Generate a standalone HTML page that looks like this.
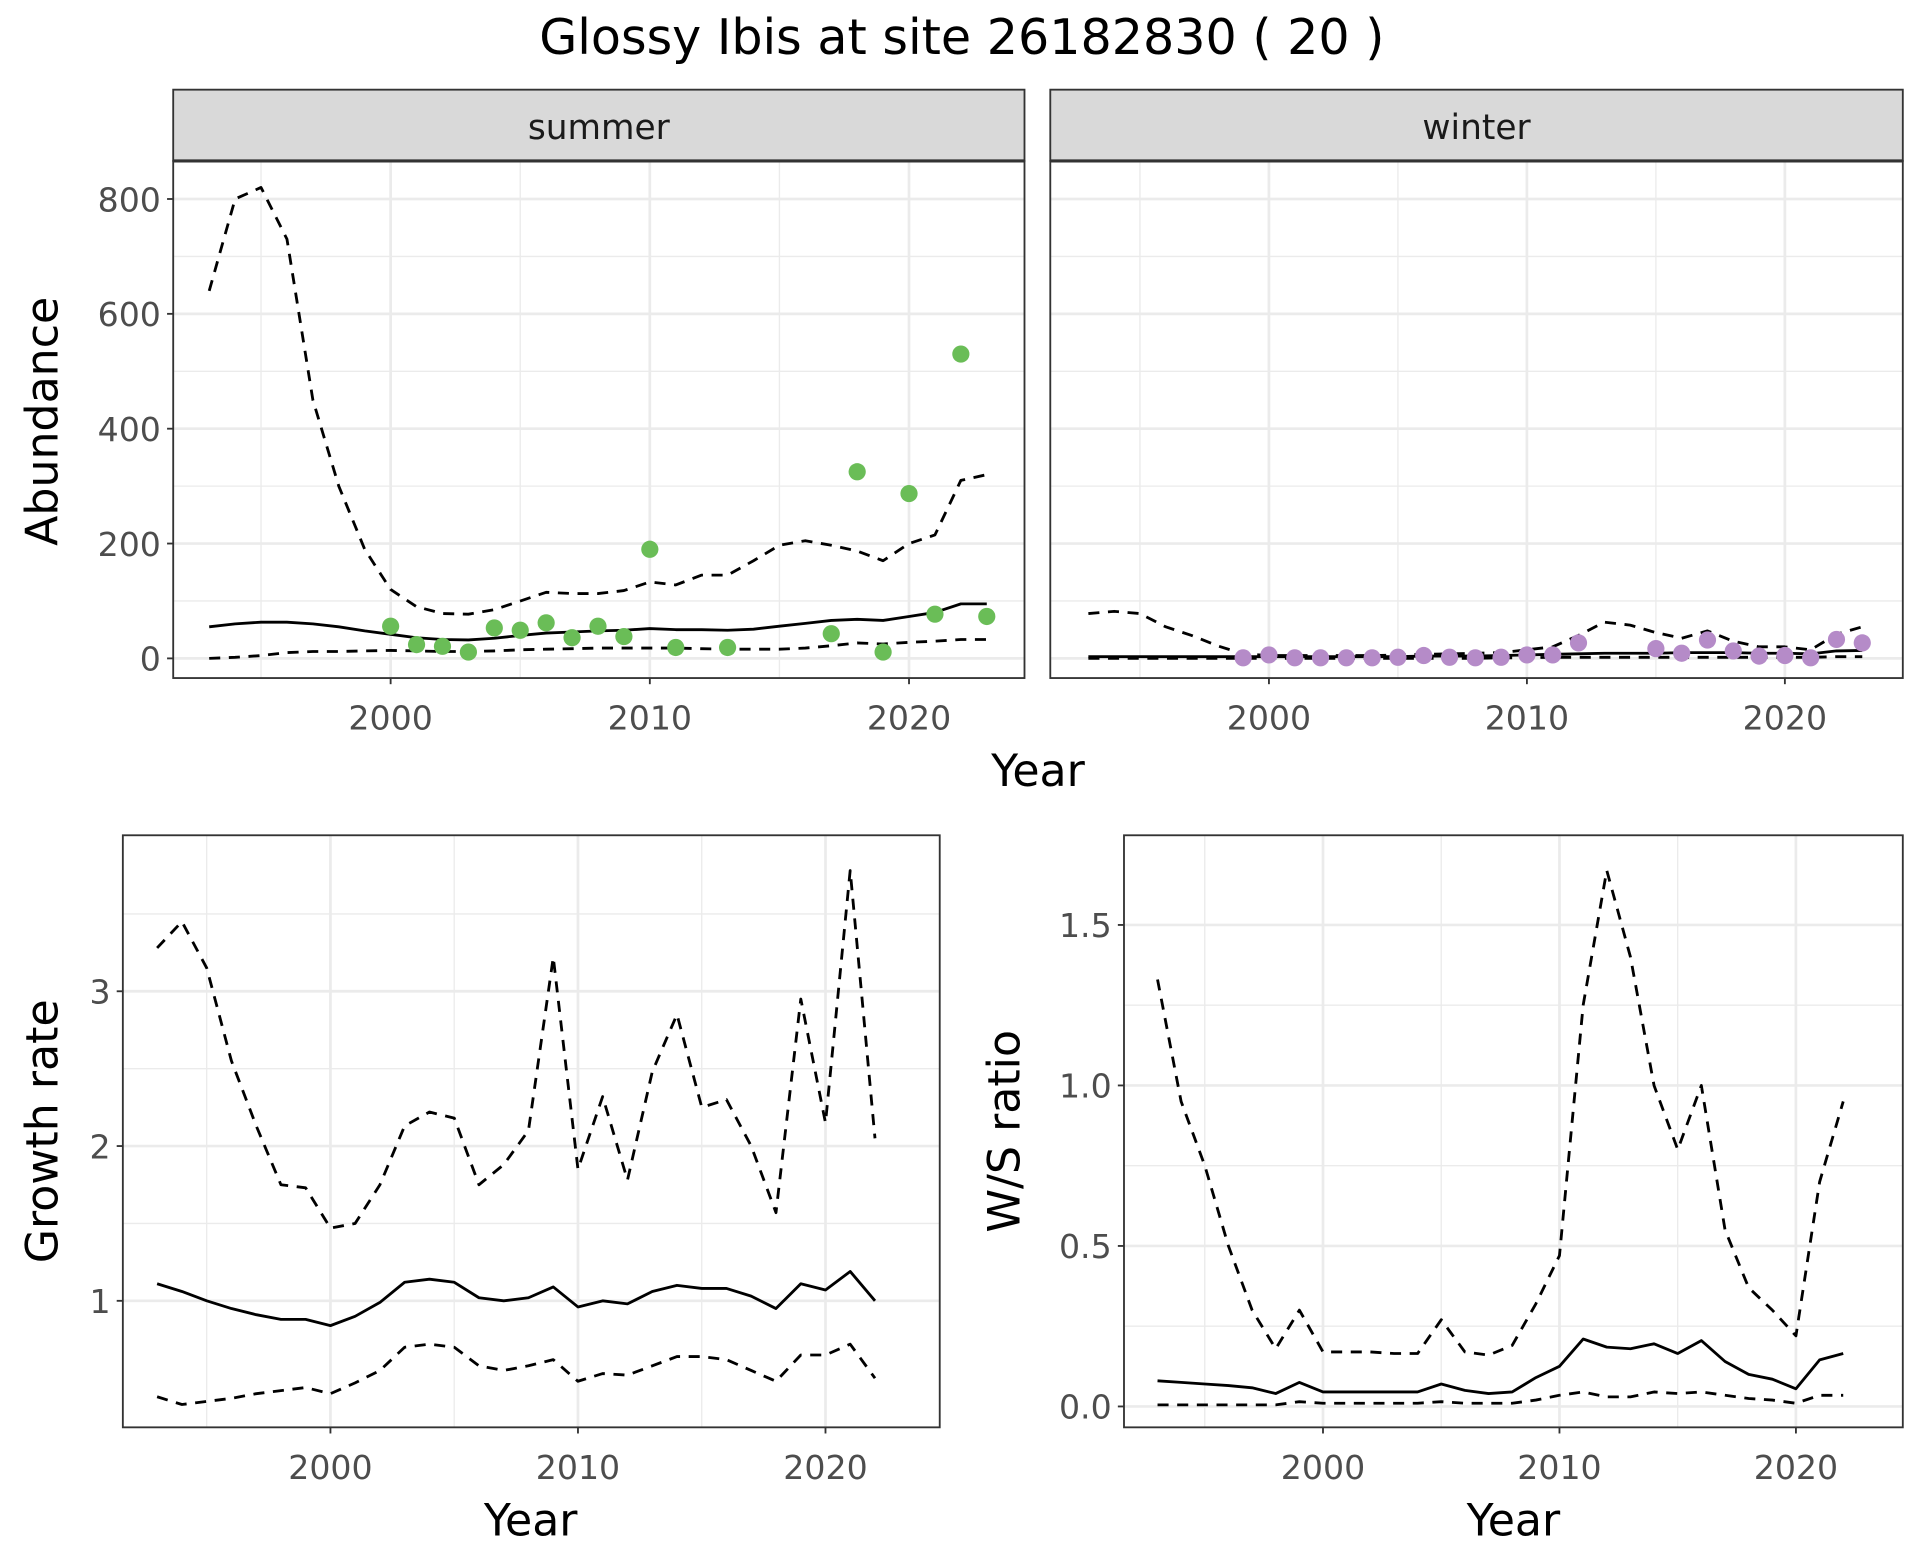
<!DOCTYPE html>
<html><head><meta charset="utf-8"><style>
html,body{margin:0;padding:0;background:#fff}
svg{display:block}
text{font-family:"DejaVu Sans","Liberation Sans",sans-serif}
</style></head><body>
<svg id="chart" width="1920" height="1560" viewBox="0 0 1563 1270" preserveAspectRatio="none" xmlns="http://www.w3.org/2000/svg">
<text x="783" y="44" font-size="40" text-anchor="middle" fill="#000">Glossy Ibis at site 26182830 ( 20 )</text>
</svg>
<script>
const yearsAll = [1993,1994,1995,1996,1997,1998,1999,2000,2001,2002,2003,2004,2005,2006,2007,2008,2009,2010,2011,2012,2013,2014,2015,2016,2017,2018,2019,2020,2021,2022,2023];
const summerMean = [55,60,63,63,60,55,48,42,36,33,32,35,40,44,46,48,49,52,50,50,49,51,56,61,66,68,66,73,80,95,95];
const summerUpper = [640,800,820,730,450,300,190,120,90,78,77,85,100,115,113,113,118,133,128,145,145,170,197,205,197,187,170,200,215,310,320];
const summerLower = [0,2,5,10,12,12,13,14,13,12,12,13,15,16,17,18,18,18,18,17,16,16,16,18,22,27,25,28,30,33,33];
const summerPtYears = [2000,2001,2002,2003,2004,2005,2006,2007,2008,2009,2010,2011,2013,2017,2018,2019,2020,2021,2022,2023];
const summerPtVals = [56,24,21,11,53,49,62,36,56,38,190,19,19,43,325,11,287,77,530,73];
const winterMean = [3,3,3,3,3,3,3,3,3,3,3,3,3,4,4,4,5,6,7,8,9,9,9,10,10,10,9,9,8,13,14];
const winterUpper = [78,82,78,55,40,22,8,5,5,5,5,5,6,7,8,9,10,15,20,40,63,58,45,35,48,30,20,20,15,42,55];
const winterLower = [0,0,0,0,0,0,0,0,0,0,0,0,0,0,0,0,1,1,2,2,2,2,2,2,2,2,2,2,2,3,3];
const winterPtYears = [1999,2000,2001,2002,2003,2004,2005,2006,2007,2008,2009,2010,2011,2012,2015,2016,2017,2018,2019,2020,2021,2022,2023];
const winterPtVals = [1,6,1,1,1,1,2,5,2,1,2,6,6,27,17,9,32,13,4,5,1,33,27];
const years2 = [1993,1994,1995,1996,1997,1998,1999,2000,2001,2002,2003,2004,2005,2006,2007,2008,2009,2010,2011,2012,2013,2014,2015,2016,2017,2018,2019,2020,2021,2022];
const growthMean = [1.11,1.06,1.00,0.95,0.91,0.88,0.88,0.84,0.90,0.99,1.12,1.14,1.12,1.02,1.00,1.02,1.09,0.96,1.00,0.98,1.06,1.10,1.08,1.08,1.03,0.95,1.11,1.07,1.19,1.00];
const growthUpper = [3.28,3.45,3.15,2.55,2.13,1.75,1.73,1.47,1.50,1.75,2.13,2.22,2.18,1.75,1.88,2.10,3.22,1.85,2.32,1.78,2.48,2.85,2.25,2.30,2.00,1.57,2.95,2.15,3.78,2.05];
const growthLower = [0.38,0.33,0.35,0.37,0.40,0.42,0.44,0.40,0.47,0.55,0.70,0.72,0.70,0.58,0.55,0.58,0.62,0.48,0.53,0.52,0.58,0.64,0.64,0.62,0.55,0.48,0.65,0.65,0.72,0.50];
const ratioMean = [0.08,0.075,0.07,0.065,0.058,0.04,0.075,0.045,0.045,0.045,0.045,0.045,0.07,0.05,0.04,0.045,0.09,0.125,0.21,0.185,0.18,0.195,0.165,0.205,0.14,0.10,0.085,0.055,0.145,0.165];
const ratioUpper = [1.33,0.95,0.75,0.50,0.30,0.18,0.30,0.17,0.17,0.17,0.165,0.165,0.27,0.17,0.16,0.19,0.32,0.47,1.25,1.67,1.40,1.00,0.80,1.00,0.55,0.37,0.30,0.22,0.70,0.95];
const ratioLower = [0.005,0.005,0.005,0.005,0.005,0.005,0.015,0.01,0.01,0.01,0.01,0.01,0.015,0.01,0.01,0.01,0.02,0.035,0.045,0.03,0.03,0.045,0.04,0.045,0.035,0.025,0.02,0.01,0.035,0.035];
const abundTicks = [0,200,400,600,800];
const abundMinor = [100,300,500,700];
const yearTicks = [2000,2010,2020];
const yearMinor = [1995,2005,2015];
const growthTicks = [1,2,3];
const growthMinor = [1.5,2.5,3.5];
const ratioTicks = [0,0.5,1.0,1.5];
const ratioMinor = [0.25,0.75,1.25];

const NS='http://www.w3.org/2000/svg';
const svg=document.getElementById('chart');
function el(tag,attrs,parent){const e=document.createElementNS(NS,tag);for(const k in attrs)e.setAttribute(k,attrs[k]);(parent||svg).appendChild(e);return e;}

function lin(d0,d1,r0,r1){return v=>r0+(v-d0)*(r1-r0)/(d1-d0);}

function panel(o){
  const g=el('g',{});
  
  
  const {x0,x1,y0,y1,sx,sy}=o;
  el('rect',{x:x0,y:y0,width:x1-x0,height:y1-y0,fill:'#fff'},g);
  o.xMinor.forEach(v=>el('line',{x1:sx(v),x2:sx(v),y1:y0,y2:y1,stroke:'#ebebeb','stroke-width':1.1},g));
  o.yMinor.forEach(v=>{const y=sy(v);if(y>y0&&y<y1)el('line',{x1:x0,x2:x1,y1:y,y2:y,stroke:'#ebebeb','stroke-width':1.1},g);});
  o.xTicks.forEach(v=>el('line',{x1:sx(v),x2:sx(v),y1:y0,y2:y1,stroke:'#ebebeb','stroke-width':2.2},g));
  o.yTicks.forEach(v=>el('line',{x1:x0,x2:x1,y1:sy(v),y2:sy(v),stroke:'#ebebeb','stroke-width':2.2},g));
  const clipId='c'+o.name;
  const cp=el('clipPath',{id:clipId},g);
  el('rect',{x:x0,y:y0,width:x1-x0,height:y1-y0},cp);
  const inner=el('g',{'clip-path':'url(#'+clipId+')'},g);
  o.series.forEach(s=>{
    const pts=s.xs.map((x,i)=>sx(x).toFixed(1)+','+sy(s.ys[i]).toFixed(1)).join(' ');
    const p=el('polyline',{points:pts,fill:'none',stroke:'#000','stroke-width':2.3,'stroke-linejoin':'round'},inner);
    if(s.dash)p.setAttribute('stroke-dasharray','9,7');
    
    
  });
  if(o.points){o.points.xs.forEach((x,i)=>{
    const c=el('circle',{cx:sx(x),cy:sy(o.points.ys[i]),r:7,fill:o.points.color},inner);
    
    
  });}
  el('rect',{x:x0,y:y0,width:x1-x0,height:y1-y0,fill:'none',stroke:'#333','stroke-width':1.5},g);
  o.xTicks.forEach(v=>{
    el('line',{x1:sx(v),x2:sx(v),y1:y1,y2:y1+5,stroke:'#333','stroke-width':1.5},g);
    const t=el('text',{x:sx(v),y:y1+42,'font-size':27,'text-anchor':'middle',fill:'#4d4d4d'},g);t.textContent=v;
  });
  if(o.yLabels!==false)o.yTicks.forEach(v=>{
    el('line',{x1:x0-5,x2:x0,y1:sy(v),y2:sy(v),stroke:'#333','stroke-width':1.5},g);
    const t=el('text',{x:x0-10,y:sy(v)+10,'font-size':27,'text-anchor':'end',fill:'#4d4d4d'},g);t.textContent=o.fmt?o.fmt(v):v;
  });
  if(o.strip){
    el('rect',{x:x0,y:73,width:x1-x0,height:y0-73,fill:'#d9d9d9',stroke:'#333','stroke-width':1.5},g);
    el('line',{x1:x0,x2:x1,y1:y0,y2:y0,stroke:'#333','stroke-width':2.5},g);
    const t=el('text',{x:(x0+x1)/2,y:113,'font-size':28,'text-anchor':'middle',fill:'#1a1a1a'},g);t.textContent=o.strip;
    
    
  }
  return g;
}

const sxS=lin(2000,2020,318,740), syA=lin(0,800,536,162);
panel({name:'summer-panel',x0:141,x1:834,y0:131,y1:552,sx:sxS,sy:syA,xTicks:yearTicks,xMinor:yearMinor,yTicks:abundTicks,yMinor:abundMinor,strip:'summer',
  series:[{name:'summer-upper',xs:yearsAll,ys:summerUpper,dash:1},{name:'summer-lower',xs:yearsAll,ys:summerLower,dash:1},{name:'summer-mean',xs:yearsAll,ys:summerMean}],
  points:{xs:summerPtYears,ys:summerPtVals,color:'#6abd57'}});
const sxW=lin(2000,2020,1033,1453);
panel({name:'winter-panel',x0:855,x1:1549,y0:131,y1:552,sx:sxW,sy:syA,xTicks:yearTicks,xMinor:yearMinor,yTicks:abundTicks,yMinor:abundMinor,strip:'winter',yLabels:false,
  series:[{name:'winter-upper',xs:yearsAll,ys:winterUpper,dash:1},{name:'winter-lower',xs:yearsAll,ys:winterLower,dash:1},{name:'winter-mean',xs:yearsAll,ys:winterMean}],
  points:{xs:winterPtYears,ys:winterPtVals,color:'#b58bc8'}});
const sxG=lin(2000,2020,269,672), syG=lin(1,3,1059,807);
panel({name:'growth-panel',x0:100,x1:765,y0:680,y1:1162,sx:sxG,sy:syG,xTicks:yearTicks,xMinor:yearMinor,yTicks:growthTicks,yMinor:growthMinor,
  series:[{name:'growth-upper',xs:years2,ys:growthUpper,dash:1},{name:'growth-lower',xs:years2,ys:growthLower,dash:1},{name:'growth-mean',xs:years2,ys:growthMean}]});
const sxR=lin(2000,2020,1077,1462), syR=lin(0,1.5,1145,753);
panel({name:'ratio-panel',x0:915,x1:1549,y0:680,y1:1162,sx:sxR,sy:syR,xTicks:yearTicks,xMinor:yearMinor,yTicks:ratioTicks,yMinor:ratioMinor,fmt:v=>v.toFixed(1),
  series:[{name:'ratio-upper',xs:years2,ys:ratioUpper,dash:1},{name:'ratio-lower',xs:years2,ys:ratioLower,dash:1},{name:'ratio-mean',xs:years2,ys:ratioMean}]});

function label(txt,x,y,rot,name){
  const t=el('text',{x:x,y:y,'font-size':36,'text-anchor':'middle',fill:'#000'});
  if(rot)t.setAttribute('transform','rotate(-90 '+x+' '+y+')');
  t.textContent=txt;
  
  
}
label('Year',845,640,0,'top-x-axis-title');
label('Abundance',47,343,1,'abundance-axis-title');
label('Year',432,1250,0,'growth-x-axis-title');
label('Growth rate',47,921,1,'growth-axis-title');
label('Year',1232,1250,0,'ratio-x-axis-title');
label('W/S ratio',830,921,1,'ratio-axis-title');
</script>
</body></html>
